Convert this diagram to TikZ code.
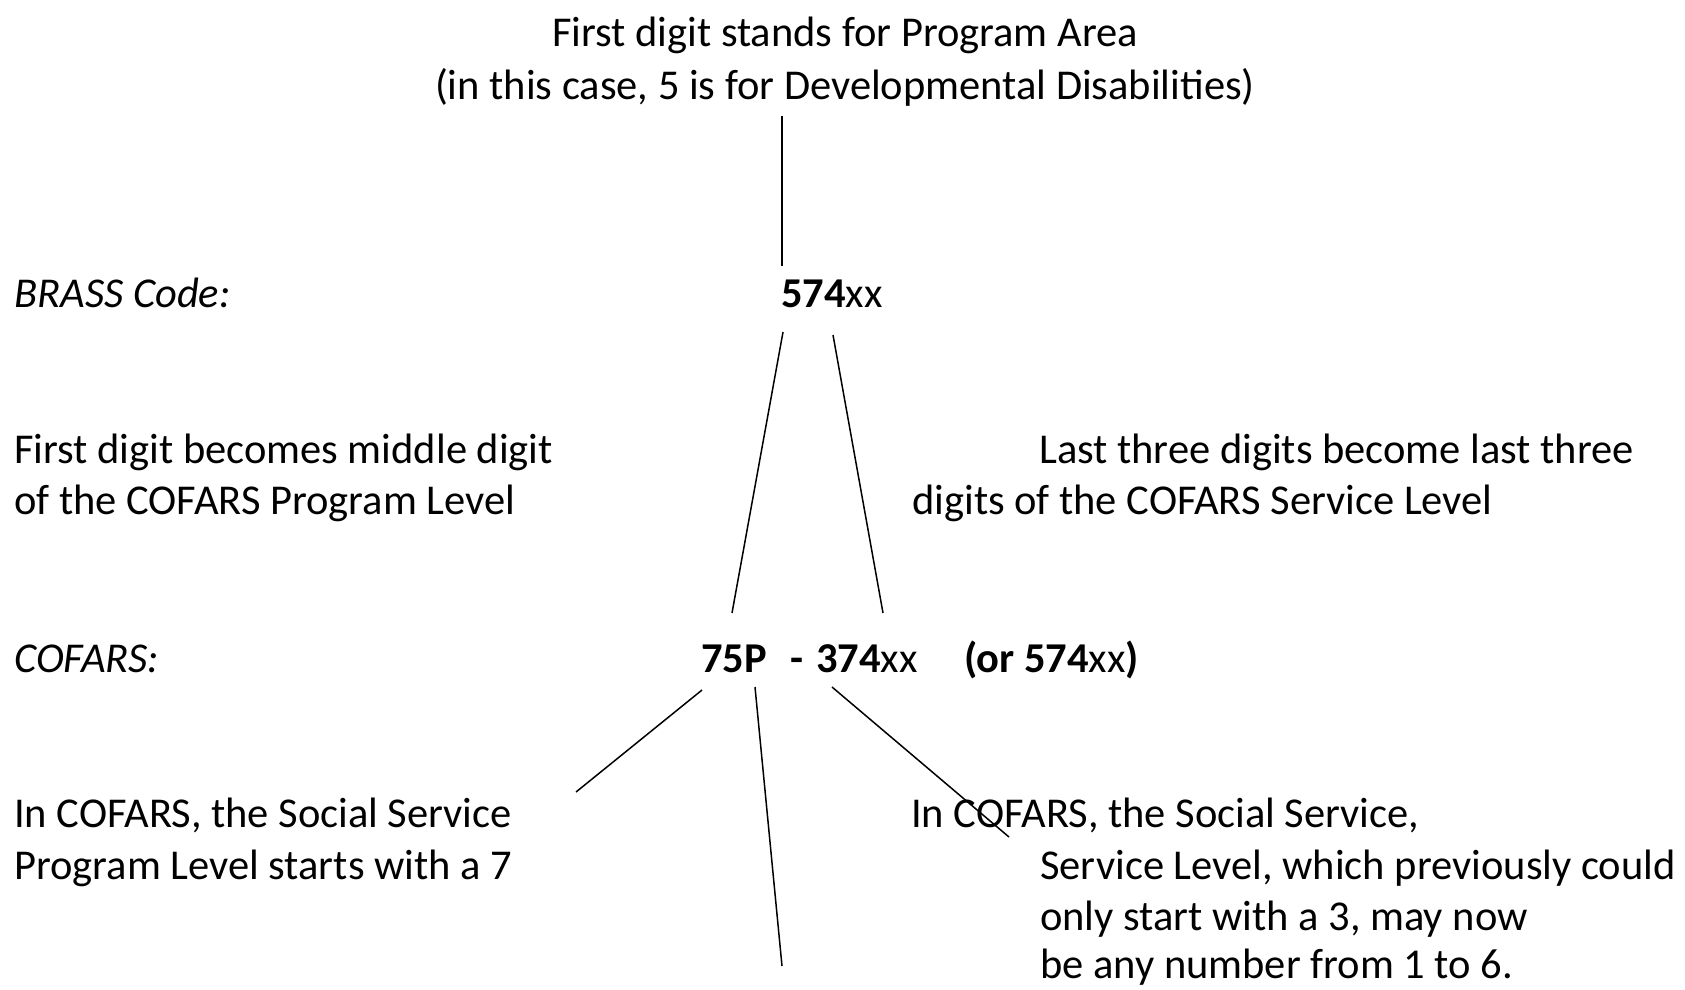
\documentclass[tikz,border=0pt]{standalone}
\usepackage{fontspec}
\setmainfont{Carlito}
\begin{document}
\begin{tikzpicture}[x=1pt,y=-1pt,
  txt/.style={anchor=base west, inner sep=0pt, font=\fontsize{42.5}{51}\selectfont},
  ctr/.style={anchor=base, inner sep=0pt, font=\fontsize{42.5}{51}\selectfont},
  link/.style={draw=black, line width=1.5pt}]
\useasboundingbox (0,0) rectangle (1685,989);
% title
\node[ctr] (title1) at (845,46) {First digit stands for Program Area};
\node[ctr] (title2) at (845,99) {(in this case, 5 is for Developmental Disabilities)};
% BRASS row
\node[txt] (brasslbl) at (14,307) {\itshape BRASS Code:};
\node[txt] (brass) at (781,307) {\textbf{574}xx};
% middle explanations
\node[txt] (mid1a) at (14,463) {First digit becomes middle digit};
\node[txt] (mid1b) at (14,514) {of the COFARS Program Level};
\node[txt] (mid2a) at (1039,463) {Last three digits become last three};
\node[txt] (mid2b) at (912,514) {digits of the COFARS Service Level};
% COFARS row
\node[txt] (cofarslbl) at (14,672) {\itshape COFARS:};
\node[txt] (prog) at (701,672) {\textbf{75P}};
\node[txt] (dash) at (790,672) {\textbf{-}};
\node[txt] (serv) at (816,672) {\textbf{374}xx};
\node[txt] (alt) at (964,672) {\textbf{(or 574}xx\textbf{)}};
% bottom explanations
\node[txt] (bl1) at (14,827) {In COFARS, the Social Service};
\node[txt] (bl2) at (14,879) {Program Level starts with a 7};
\node[txt] (br1) at (911,827) {In COFARS, the Social Service,};
\node[txt] (br2) at (1040,879) {Service Level, which previously could};
\node[txt] (br3) at (1040,930) {only start with a 3, may now};
\node[txt] (br4) at (1040,978) {be any number from 1 to 6.};
% connector end points
\coordinate (c1a) at (782,116);
\coordinate (c1b) at (782,266);
\coordinate (c2a) at (783,332);
\coordinate (c2b) at (732,613);
\coordinate (c3a) at (833,335);
\coordinate (c3b) at (883,613);
\coordinate (c4a) at (702,690);
\coordinate (c4b) at (576,792);
\coordinate (c5a) at (755,687);
\coordinate (c5b) at (782,966);
\coordinate (c6a) at (832,687);
\coordinate (c6b) at (1009,837);
% connectors
\draw[link] (c1a) -- (c1b);
\draw[link] (c2a) -- (c2b);
\draw[link] (c3a) -- (c3b);
\draw[link] (c4a) -- (c4b);
\draw[link] (c5a) -- (c5b);
\draw[link] (c6a) -- (c6b);
\end{tikzpicture}
\end{document}
